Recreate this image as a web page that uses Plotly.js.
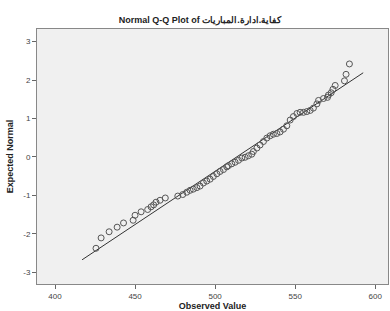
<!DOCTYPE html>
<html>
<head>
<meta charset="utf-8">
<script src="https://cdn.plot.ly/plotly-3.0.1.min.js"></script>
<style>html,body{margin:0;padding:0;background:#fff;}#chart{width:390px;height:311px;}</style>
</head>
<body>
<div id="chart"></div>
<script>
const observedValues = [
  425.6, 428.8, 433.8, 438.8, 442.8, 448.8, 450.0, 453.8, 457.9, 460.0,
  461.6, 463.1, 465.6, 468.9, 476.7, 479.8, 482.3, 484.4, 486.4, 488.6,
  490.6, 492.7, 494.8, 496.9, 498.9, 501.1, 503.1, 505.2, 507.3, 508.3,
  510.4, 512.5, 514.6, 516.7, 518.75, 520.8, 522.9, 523.9, 526.1, 528.1,
  530.2, 532.3, 534.4, 536.4, 538.6, 540.6, 542.7, 544.8, 546.9, 548.9,
  551.1, 553.1, 555.2, 557.3, 559.4, 561.4, 563.6, 564.6, 567.7, 570.2,
  570.8, 572.5, 573.6, 575.0, 580.8, 581.8, 583.9
];
const expectedNormal = [
  -2.38, -2.11, -1.95, -1.83, -1.72, -1.65, -1.52, -1.43, -1.37, -1.30,
  -1.25, -1.18, -1.13, -1.07, -1.02, -0.98, -0.92, -0.87, -0.84, -0.80,
  -0.76, -0.68, -0.63, -0.58, -0.51, -0.44, -0.38, -0.33, -0.26, -0.23,
  -0.18, -0.14, -0.09, -0.03, -0.01, 0.03, 0.07, 0.14, 0.23, 0.31,
  0.40, 0.49, 0.55, 0.59, 0.61, 0.65, 0.72, 0.81, 0.96, 1.05,
  1.13, 1.16, 1.16, 1.18, 1.21, 1.27, 1.38, 1.47, 1.52, 1.55,
  1.61, 1.67, 1.76, 1.86, 1.98, 2.15, 2.42
];
// Reference line end points
const lineX = [416.9, 592.5];
const lineY = [-2.68, 2.19];
// Ticks
const xTicks = [400, 450, 500, 550, 600];
const yTicks = [-3, -2, -1, 0, 1, 2, 3];

const font = 'Liberation Sans, Arial, sans-serif';

const traces = [
  {
    x: lineX, y: lineY, type: 'scatter', mode: 'lines',
    line: {color: '#333333', width: 1}, hoverinfo: 'skip'
  },
  {
    x: observedValues, y: expectedNormal, type: 'scatter', mode: 'markers',
    marker: {symbol: 'circle-open', size: 6, color: '#555555', line: {width: 1, color: '#555555'}}
  }
];

const layout = {
  width: 390, height: 311,
  margin: {l: 37, r: 2, t: 29, b: 27},
  paper_bgcolor: '#ffffff',
  plot_bgcolor: '#f0f0f0',
  showlegend: false,
  title: {
    text: '<b>Normal Q-Q Plot of كفاية.ادارة.المباريات</b>',
    font: {family: font, size: 9, color: '#222'},
    x: 0.513, xref: 'container', xanchor: 'center',
    y: 0.935, yref: 'container', yanchor: 'middle'
  },
  xaxis: {
    range: [388.75, 608],
    tickvals: xTicks, ticktext: xTicks.map(String),
    ticks: 'outside', ticklen: 4, tickcolor: '#666', tickwidth: 1,
    showgrid: false, zeroline: false,
    showline: true, linecolor: '#888', linewidth: 1, mirror: true,
    tickfont: {family: font, size: 8, color: '#444'},
    title: {text: '<b>Observed Value</b>', font: {family: font, size: 9, color: '#222'}, standoff: 4}
  },
  yaxis: {
    range: [-3.31, 3.33],
    tickvals: yTicks, ticktext: yTicks.map(String),
    ticks: 'outside', ticklen: 4, tickcolor: '#666', tickwidth: 1,
    showgrid: false, zeroline: false,
    showline: true, linecolor: '#888', linewidth: 1, mirror: true,
    tickfont: {family: font, size: 8, color: '#444'},
    title: {text: '<b>Expected Normal</b>', font: {family: font, size: 9, color: '#222'}, standoff: 8}
  }
};

Plotly.newPlot('chart', traces, layout, {staticPlot: true, displayModeBar: false});
</script>
</body>
</html>
